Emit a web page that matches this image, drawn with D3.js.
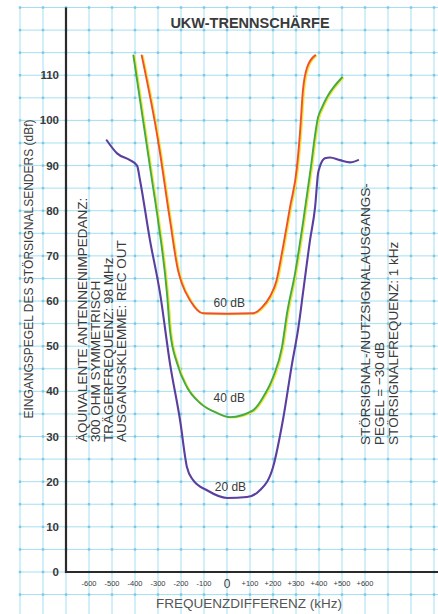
<!DOCTYPE html>
<html>
<head>
<meta charset="utf-8">
<script src="https://cdn.jsdelivr.net/npm/d3@7"></script>
<style>
  body { margin: 0; background: #fff; }
  text { font-family: "Liberation Sans", Arial, sans-serif; fill: #3a3a3a; }
</style>
</head>
<body>
<div id="content"></div>
<script>
// frequency offsets (kHz) and input levels (dBf)
var curve60Khz = [-371, -300, -248, -213, -197, -161, -104, 0, 113, 152, 187, 215, 240, 274, 304, 317, 330, 348, 383];
var curve60Db  = [114.4, 95.6, 77.9, 66.8, 64.0, 60.2, 57.3, 57.2, 57.3, 58.6, 61.0, 64.5, 71.0, 80.8, 89.6, 97.0, 106.6, 111.7, 114.4];

var curve40Khz = [-407, -365, -326, -300, -261, -248, -217, -174, -117, -43, 13, 113, 157, 200, 239, 261, 296, 330, 361, 396, 413, 439, 500];
var curve40Db  = [114.4, 100.0, 86.7, 77.9, 61.7, 53.5, 46.2, 40.9, 37.4, 35.2, 34.3, 35.8, 38.7, 43.1, 49.8, 57.3, 66.2, 77.2, 88.3, 100.7, 102.9, 105.5, 109.5];

var curve20Khz = [-523, -478, -422, -391, -378, -335, -291, -248, -204, -174, -148, -87, 0, 87, 143, 200, 243, 283, 310, 332, 361, 383, 396, 404, 426, 448, 491, 535, 570];
var curve20Db  = [95.6, 92.7, 91.2, 90.0, 86.7, 73.5, 61.7, 46.2, 33.6, 23.2, 20.4, 18.1, 16.4, 16.6, 18.1, 23.2, 33.6, 46.2, 54.0, 62.4, 73.5, 80.8, 88.3, 89.8, 91.6, 91.8, 91.2, 90.7, 91.2];

var curveNames = ["60 dB", "40 dB", "20 dB"];
var curveLabelKhz = [10, 10, 15];
var curveLabelDb = [59.5, 38.5, 18.8];

var yTicks = [0, 10, 20, 30, 40, 50, 60, 70, 80, 90, 100, 110];
var xTicks = [-600, -500, -400, -300, -200, -100, 0, 100, 200, 300, 400, 500, 600];

var titleText = "UKW-TRENNSCHÄRFE";
var xTitle = "FREQUENZDIFFERENZ (kHz)";
var yTitle = "EINGANGSPEGEL DES STÖRSIGNALSENDERS (dBf)";
var leftNote = ["ÄQUIVALENTE ANTENNENIMPEDANZ:", "300 OHM SYMMETRISCH", "TRÄGERFREQUENZ: 98 MHz", "AUSGANGSKLEMME: REC OUT"];
var rightNote = ["STÖRSIGNAL-/NUTZSIGNALAUSGANGS-", "PEGEL = \u221230 dB", "STÖRSIGNALFREQUENZ: 1 kHz"];

var frameWidth = 438;
var frameHeight = 614;

var x = d3.scaleLinear().domain([-900, 900]).range([20, 434]);
var y = d3.scaleLinear().domain([0, 125]).range([572, 7.5]);

var frame = d3.select("#content").append("svg")
                .attr("width", frameWidth)
                .attr("height", frameHeight);

// graph paper
var gridGroup = frame.append("g");
gridGroup.selectAll("line.v")
            .data(d3.range(-900, 901, 100))
            .enter().append("line")
            .attr("x1", function(d) { return x(d); })
            .attr("x2", function(d) { return x(d); })
            .attr("y1", y(125))
            .attr("y2", frameHeight)
            .attr("stroke", "#a6dff0")
            .attr("stroke-width", 1);
gridGroup.selectAll("line.h")
            .data(d3.range(-5, 126, 5))
            .enter().append("line")
            .attr("x1", x(-900))
            .attr("x2", frameWidth)
            .attr("y1", function(d) { return y(d); })
            .attr("y2", function(d) { return y(d); })
            .attr("stroke", "#a6dff0")
            .attr("stroke-width", 1);
var crossings = [];
d3.range(-900, 901, 100).forEach(function(k) {
  d3.range(-5, 126, 5).forEach(function(v) { crossings.push([k, v]); });
});
gridGroup.selectAll("rect")
            .data(crossings)
            .enter().append("rect")
            .attr("x", function(d) { return x(d[0]) - 1.2; })
            .attr("y", function(d) { return y(d[1]) - 1.2; })
            .attr("width", 2.4)
            .attr("height", 2.4)
            .attr("fill", "#79c9e6");

// axes
frame.append("line")
        .attr("x1", x(-700)).attr("x2", x(-700))
        .attr("y1", y(125)).attr("y2", y(0) + 1)
        .attr("stroke", "#2a2a2a").attr("stroke-width", 2.2);
frame.append("line")
        .attr("x1", x(-700) - 1).attr("x2", frameWidth)
        .attr("y1", y(0)).attr("y2", y(0))
        .attr("stroke", "#2a2a2a").attr("stroke-width", 2.2);

frame.append("g").selectAll("text")
        .data(yTicks)
        .enter().append("text")
        .attr("x", 59)
        .attr("y", function(d) { return y(d) + 4; })
        .attr("text-anchor", "end")
        .attr("font-size", 11.5)
        .attr("font-weight", "bold")
        .text(function(d) { return d; });

frame.append("g").selectAll("text")
        .data(xTicks)
        .enter().append("text")
        .attr("x", function(d) { return x(d); })
        .attr("y", function(d) { return d === 0 ? 588 : 586; })
        .attr("text-anchor", "middle")
        .attr("font-size", function(d) { return d === 0 ? 12 : 7.5; })
        .text(function(d) { return d < 0 ? "-" + (-d) : (d === 0 ? "0" : "+" + d); });

frame.append("text")
        .attr("x", 250).attr("y", 28)
        .attr("text-anchor", "middle")
        .attr("font-size", 14.5)
        .attr("font-weight", "bold")
        .text(titleText);

frame.append("text")
        .attr("x", 249).attr("y", 608)
        .attr("text-anchor", "middle")
        .attr("font-size", 13.5)
        .style("fill", "#555")
        .text(xTitle);

frame.append("text")
        .attr("transform", "translate(32.5,269) rotate(-90)")
        .attr("text-anchor", "middle")
        .attr("font-size", 12)
        .text(yTitle);

frame.append("g").selectAll("text")
        .data(leftNote)
        .enter().append("text")
        .attr("transform", function(d, i) { return "translate(" + (87 + i * 13) + ",442) rotate(-90)"; })
        .attr("font-size", 13.5)
        .text(function(d) { return d; });

frame.append("g").selectAll("text")
        .data(rightNote)
        .enter().append("text")
        .attr("transform", function(d, i) { return "translate(" + (370 + i * 14) + ",445) rotate(-90)"; })
        .attr("font-size", 13.5)
        .text(function(d) { return d; });

// curves
var line = d3.line()
              .x(function(d) { return x(d[0]); })
              .y(function(d) { return y(d[1]); })
              .curve(d3.curveMonotoneX);

function pairs(a, b) { return a.map(function(v, i) { return [v, b[i]]; }); }

var curveGroup = frame.append("g").attr("fill", "none").attr("stroke-linecap", "round");
curveGroup.append("path")
            .attr("d", line(pairs(curve60Khz, curve60Db)))
            .attr("transform", "translate(1.3,0.6)")
            .attr("stroke", "#f3e53c").attr("stroke-width", 1.8);
curveGroup.append("path")
            .attr("d", line(pairs(curve60Khz, curve60Db)))
            .attr("stroke", "#f0512c").attr("stroke-width", 1.9);
curveGroup.append("path")
            .attr("d", line(pairs(curve40Khz, curve40Db)))
            .attr("transform", "translate(1.3,0.6)")
            .attr("stroke", "#eee83a").attr("stroke-width", 1.8);
curveGroup.append("path")
            .attr("d", line(pairs(curve40Khz, curve40Db)))
            .attr("stroke", "#44a948").attr("stroke-width", 1.9);
curveGroup.append("path")
            .attr("d", line(pairs(curve20Khz, curve20Db)))
            .attr("stroke", "#5a3f9f").attr("stroke-width", 2.1);

frame.append("g").selectAll("text")
        .data(curveNames)
        .enter().append("text")
        .attr("x", function(d, i) { return x(curveLabelKhz[i]); })
        .attr("y", function(d, i) { return y(curveLabelDb[i]) + 4; })
        .attr("text-anchor", "middle")
        .attr("font-size", 12)
        .text(function(d) { return d; });
</script>
</body>
</html>
